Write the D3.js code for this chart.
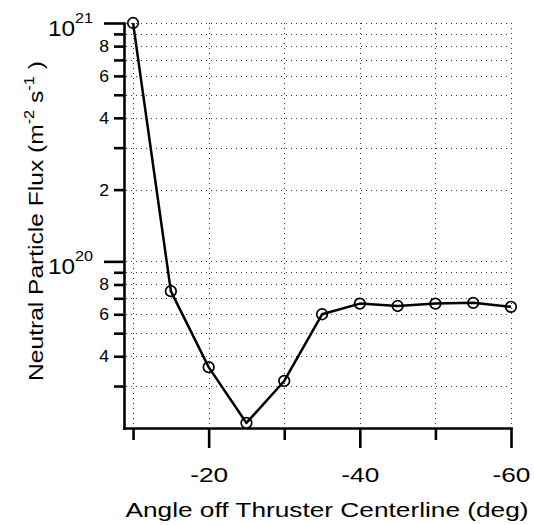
<!DOCTYPE html>
<html>
<head>
<meta charset="utf-8">
<script src="https://cdn.jsdelivr.net/npm/d3@7"></script>
<style>
  body { margin: 0; background: #fff; }
  text { font-family: "Liberation Sans", Arial, Helvetica, sans-serif; fill: #000; }
</style>
</head>
<body>
<script>
// data
var angles = [-10, -15, -20, -25, -30, -35, -40, -45, -50, -55, -60];
var flux = [1.0e21, 7.5e19, 3.6e19, 2.1e19, 3.15e19, 6.0e19, 6.65e19, 6.5e19, 6.65e19, 6.7e19, 6.45e19];

var xTicks = [-10, -20, -30, -40, -50, -60];
var xTickLabels = ["", "-20", "", "-40", "", "-60"];
var yDecades = [1e19, 1e20, 1e21];
var yDecadeExp = ["19", "20", "21"];
var yMultipliers = [1, 2, 3, 4, 5, 6, 7, 8, 9];
var yLabelledMultipliers = [2, 4, 6, 8];

var W = 534, H = 525;
var plotLeft = 124, plotRight = 511, plotTop = 23, plotBottom = 428;

var svg = d3.select("body").append("svg")
  .attr("width", W)
  .attr("height", H);

var x = d3.scaleLinear().domain([-8.8, -60]).range([plotLeft, plotRight]);
var y = d3.scaleLog().domain([2e19, 1e21]).range([plotBottom, plotTop]);

// all y tick values inside the domain
var yTicks = [];
yDecades.forEach(function(d) {
  yMultipliers.forEach(function(m) {
    var v = m * d;
    if (v >= 2e19 * 0.999 && v <= 1e21 * 1.001) yTicks.push(v);
  });
});

// dotted grid
var grid = svg.append("g")
  .attr("stroke", "#333")
  .attr("stroke-width", 1)
  .attr("stroke-dasharray", "1,4")
  .attr("fill", "none");

grid.selectAll("line.h")
  .data(yTicks.filter(function(v) { return v > 2.01e19; }))
  .join("line")
  .attr("class", "h")
  .attr("x1", plotLeft + 2).attr("x2", plotRight)
  .attr("y1", function(d) { return Math.round(y(d)) + 0.5; })
  .attr("y2", function(d) { return Math.round(y(d)) + 0.5; });

grid.selectAll("line.v")
  .data(xTicks)
  .join("line")
  .attr("class", "v")
  .attr("y1", plotTop).attr("y2", plotBottom - 2)
  .attr("x1", function(d) { return Math.round(x(d)) + 0.5; })
  .attr("x2", function(d) { return Math.round(x(d)) + 0.5; });

// y axis
var yAxis = d3.axisLeft(y)
  .tickValues(yTicks)
  .tickSizeOuter(0)
  .tickFormat("");

var gy = svg.append("g")
  .attr("transform", "translate(" + plotLeft + ",0)")
  .call(yAxis);

function mantissa(d) {
  var e = Math.floor(Math.log10(d) + 1e-9);
  return Math.round(d / Math.pow(10, e));
}

gy.select(".domain").attr("stroke-width", 2.6).attr("stroke-linecap", "square");
gy.selectAll(".tick line")
  .attr("stroke-width", 2.6)
  .attr("x2", function(d) { return mantissa(d) === 1 ? -20 : -10; });
gy.selectAll(".tick").filter(function(d) { return d < 2.01e19; }).remove();

// y labels: decades as 10^n, minor 2,4,6,8
gy.selectAll(".tick").each(function(d) {
  var e = Math.floor(Math.log10(d) + 1e-9);
  var m = mantissa(d);
  var t = d3.select(this);
  t.select("text").remove();
  if (m === 1) {
    var lab = t.append("text").attr("text-anchor", "start")
      .attr("transform", "translate(-76,12.5) scale(1.08,1)")
      .attr("font-size", 22.5);
    lab.append("tspan").text("10");
    lab.append("tspan").attr("font-size", 15).attr("dy", -13)
      .text(yDecadeExp[yDecades.indexOf(Math.pow(10, e))]);
  } else if (yLabelledMultipliers.indexOf(m) >= 0) {
    t.append("text").attr("text-anchor", "end")
      .attr("transform", "translate(-15,5.5) scale(1.1,1)")
      .attr("font-size", 16).text(m);
  }
});

// x axis
var xAxis = d3.axisBottom(x)
  .tickValues(xTicks)
  .tickSizeOuter(0)
  .tickFormat(function(d, i) { return xTickLabels[i]; });

var gx = svg.append("g")
  .attr("transform", "translate(0," + plotBottom + ")")
  .call(xAxis);

gx.select(".domain").attr("stroke-width", 2.6).attr("stroke-linecap", "square");
gx.selectAll(".tick line")
  .attr("stroke-width", 2.6)
  .attr("y2", function(d, i) { return xTickLabels[i] ? 20 : 12; });
gx.selectAll(".tick text")
  .attr("font-size", 21)
  .attr("y", null).attr("dy", null)
  .attr("transform", "translate(0,54) scale(1.25,1)");

// data line and markers
var line = d3.line()
  .x(function(d, i) { return x(angles[i]); })
  .y(function(d) { return y(d); });

svg.append("path")
  .datum(flux)
  .attr("d", line)
  .attr("fill", "none")
  .attr("stroke", "#000")
  .attr("stroke-width", 2.5)
  .attr("stroke-linejoin", "round");

svg.selectAll("circle.pt")
  .data(flux)
  .join("circle")
  .attr("class", "pt")
  .attr("cx", function(d, i) { return x(angles[i]); })
  .attr("cy", function(d) { return y(d); })
  .attr("r", 5.3)
  .attr("fill", "none")
  .attr("stroke", "#000")
  .attr("stroke-width", 1.7);

// titles
svg.append("text")
  .attr("transform", "translate(327,517) scale(1.25,1)")
  .attr("text-anchor", "middle")
  .attr("font-size", 21)
  .text("Angle off Thruster Centerline (deg)");

var yt = svg.append("text")
  .attr("transform", "translate(43,221) rotate(-90) scale(1.17,1)")
  .attr("text-anchor", "middle")
  .attr("font-size", 21);
yt.append("tspan").text("Neutral Particle Flux (m");
yt.append("tspan").attr("font-size", 14).attr("dy", -9).text("-2");
yt.append("tspan").attr("dy", 9).text(" s");
yt.append("tspan").attr("font-size", 14).attr("dy", -9).text("-1");
yt.append("tspan").attr("dy", 9).text(" )");
</script>
</body>
</html>
